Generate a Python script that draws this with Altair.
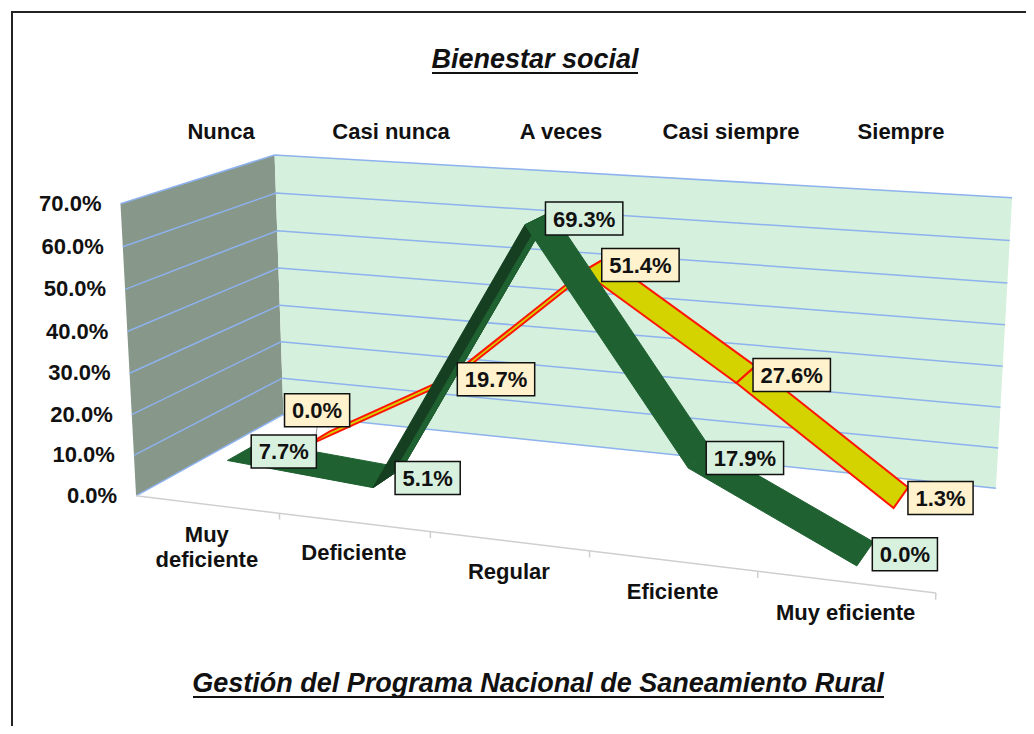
import numpy as np
import pandas as pd
import altair as alt

# ---------------- data ----------------
categories = ["Muy deficiente", "Deficiente", "Regular", "Eficiente", "Muy eficiente"]
serie_verde = [7.7, 5.1, 69.3, 17.9, 0.0]        # front ribbon (green)
serie_amarilla = [0.0, 19.7, 51.4, 27.6, 1.3]    # back ribbon (yellow)
depth_labels = ["Nunca", "Casi nunca", "A veces", "Casi siempre", "Siempre"]
y_ticks = [0, 10, 20, 30, 40, 50, 60, 70]
chart_title = "Bienestar social"
x_title = "Gestión del Programa Nacional de Saneamiento Rural"

# ---------------- layout / style ----------------
W, H = 1018, 718          # drawing area = page minus the 8px margin
M = 8
FONT = "Liberation Sans"
FS = 22                   # label font size
TFS = 27                  # title font size
GREEN = "#1f6131"
GREEN_DARK = "#153f20"
YELLOW = "#d4d300"
RED = "#ff1500"
WALL_SIDE = "#879789"
WALL_BACK = "#d5f0dc"
GRID = "#8db2ee"
BOX_GREEN = "#d8f1df"
BOX_YELLOW = "#fff2cc"
label_nudges = {("amarilla", 0): (-38, -30)}   # the one label moved by hand in the original

# ---- perspective camera fitted to the wall / floor corners of the reference (page px)
ref_pts = []
vs = [0.7, 0.6, 0.5, 0.4, 0.3, 0.2, 0.1, 0.0]
fl_y = [203, 247, 290, 332, 373, 415, 455, 493]
bl_y = [155, 193, 230, 268, 305, 342, 378, 417]
br_y = [199, 241, 283, 324, 366, 407, 447, 487]
for v, a, b, c in zip(vs, fl_y, bl_y, br_y):
    f = (0.7 - v) / 0.7
    ref_pts.append(((0, 0, v), (120 + 17 * f, a)))
    ref_pts.append(((0, 1, v), (275 + 8 * f, b)))
    ref_pts.append(((1, 1, v), (1012 - 16 * f, c)))
for u, x, y in [(0.2, 279, 513), (0.4, 430, 532), (0.6, 590, 552), (0.8, 757, 573), (1.0, 936, 593)]:
    ref_pts.append(((u, 0, 0), (x, y)))

rows = []
for (u, w, v), (x, y) in ref_pts:
    xn = (x - M - 500) / 500.0
    yn = (y - M - 360) / 360.0
    Xh = [u, w, v, 1.0]
    rows.append(Xh + [0, 0, 0, 0] + [-xn * c for c in Xh])
    rows.append([0, 0, 0, 0] + Xh + [-yn * c for c in Xh])
_, _, Vt = np.linalg.svd(np.array(rows, dtype=float))
Pn = Vt[-1].reshape(3, 4)
T = np.array([[500.0, 0, 500.0], [0, 360.0, 360.0], [0, 0, 1.0]])
P = T @ Pn
P = P / P[2, 3]


def lin(r, u, w, v):
    a = P[r]
    return f"({a[0]:.10g}*datum.{u}+({a[1]:.10g})*datum.{w}+({a[2]:.10g})*datum.{v}+({a[3]:.10g}))"


def projected(base, u="u", w="w", v="v", px="px", py="py"):
    den = lin(2, u, w, v)
    return base.transform_calculate(**{px: f"{lin(0, u, w, v)}/{den}", py: f"{lin(1, u, w, v)}/{den}"})


xs = alt.Scale(domain=[0, W], range=[0, W], nice=False, zero=False)
ys = alt.Scale(domain=[0, H], range=[0, H], nice=False, zero=False)


def PX(f="px"):
    return alt.X(f"{f}:Q", scale=xs, axis=None)


def PY(f="py"):
    return alt.Y(f"{f}:Q", scale=ys, axis=None)


n = len(categories)
vmax = max(y_ticks) / 100.0

# ---------------- walls ----------------
wall_rows = []
for part, fc, pts in [
    ("lateral", WALL_SIDE, [(0, 0, 0), (0, 1, 0), (0, 1, vmax), (0, 0, vmax)]),
    ("fondo", WALL_BACK, [(0, 1, 0), (1, 1, 0), (1, 1, vmax), (0, 1, vmax)]),
]:
    for k, (u, w, v) in enumerate(pts):
        wall_rows.append(dict(part=part, k=k, u=u, w=w, v=v, fc=fc))
walls = projected(alt.Chart(pd.DataFrame(wall_rows))).mark_line(
    filled=True, interpolate="linear-closed", strokeWidth=0
).encode(x=PX(), y=PY(), detail="part:N", order="k:Q", fill=alt.Fill("fc:N", scale=None))

# ---------------- gridlines ----------------
grid_rows = []
for t in y_ticks:
    for k, (u, w) in enumerate([(0, 0), (0, 1), (1, 1)]):
        grid_rows.append(dict(t=t, k=k, u=u, w=w, v=t / 100.0))
grid = projected(alt.Chart(pd.DataFrame(grid_rows))).mark_line(
    stroke=GRID, strokeWidth=1.5
).encode(x=PX(), y=PY(), detail="t:N", order="k:Q")

# ---------------- category axis line + ticks ----------------
axis_rows = [dict(g="eje", k=0, u=0.0, w=0.0, v=0.0), dict(g="eje", k=1, u=1.0, w=0.0, v=0.0)]
for j in range(1, n + 1):
    u = j / n
    axis_rows += [dict(g=f"t{j}", k=0, u=u, w=0.0, v=0.0), dict(g=f"t{j}", k=1, u=u, w=0.0, v=-0.015)]
axis_l = projected(alt.Chart(pd.DataFrame(axis_rows))).mark_line(
    stroke="#cfcfcf", strokeWidth=1.5
).encode(x=PX(), y=PY(), detail="g:N", order="k:Q")


# ---------------- ribbons ----------------
def ribbon_df(name, values, wc, half, up_color, down_color, rim=0.0):
    rr = []
    for i in range(len(values) - 1):
        u0, u1 = (i + 0.5) / n, (i + 1.5) / n
        v0, v1 = values[i] / 100.0, values[i + 1] / 100.0
        rising = v1 > v0 + 0.05
        strips = [(wc - half, wc + half, down_color)]
        if rising:
            strips = [(wc - half, wc + half, up_color)]
            if rim > 0:
                strips.append((wc + half - rim, wc + half, down_color))
        for s, (wa, wb, fc) in enumerate(strips):
            corners = [(u0, wa, v0), (u1, wa, v1), (u1, wb, v1), (u0, wb, v0)]
            for k, (u, w, v) in enumerate(corners):
                rr.append(dict(serie=name, seg=f"{i}-{s}", k=k, u=u, w=w, v=v, fc=fc))
    return pd.DataFrame(rr)


yellow = projected(alt.Chart(ribbon_df("amarilla", serie_amarilla, 0.75, 0.11, YELLOW, YELLOW))).mark_line(
    filled=True, interpolate="linear-closed", stroke=RED, strokeWidth=2, strokeJoin="miter"
).encode(x=PX(), y=PY(), detail="seg:N", order="k:Q", fill=alt.Fill("fc:N", scale=None))

green = projected(alt.Chart(ribbon_df("verde", serie_verde, 0.25, 0.11, GREEN_DARK, GREEN, rim=0.07))).mark_line(
    filled=True, interpolate="linear-closed", strokeWidth=1, strokeJoin="miter"
).encode(x=PX(), y=PY(), detail="seg:N", order="k:Q",
         fill=alt.Fill("fc:N", scale=None), stroke=alt.Stroke("fc:N", scale=None))

# ---------------- data labels ----------------
lab_rows = []
for sname, vals, wc, bg in [("amarilla", serie_amarilla, 0.75, BOX_YELLOW), ("verde", serie_verde, 0.25, BOX_GREEN)]:
    for i, val in enumerate(vals):
        ndx, ndy = label_nudges.get((sname, i), (0, 0))
        lab_rows.append(dict(serie=sname, cat=categories[i], u=(i + 0.5) / n, w=wc, v=val / 100.0,
                             bg=bg, ndx=ndx, ndy=ndy))
lab_base = projected(alt.Chart(pd.DataFrame(lab_rows))).transform_calculate(
    bw=f"{FS}*(0.556*(length(format(datum.v, '.1%'))-2)+1.167)+15",
    bx="datum.px + 7 + datum.ndx",
    bx2="datum.bx + datum.bw",
    by="datum.py - 16 + datum.ndy",
    by2="datum.by + 33",
    cx="(datum.bx + datum.bx2) / 2",
    cy="(datum.by + datum.by2) / 2 + 1",
)
leader = lab_base.transform_filter("datum.ndy != 0").mark_rule(color="#9a9a9a", strokeWidth=1).encode(
    x=PX("px"), y=PY("py"), x2="cx:Q", y2="by2:Q")
boxes = lab_base.mark_rect(stroke="#111111", strokeWidth=1.5).encode(
    x=PX("bx"), x2="bx2:Q", y=PY("by"), y2="by2:Q", fill=alt.Fill("bg:N", scale=None))
texts = lab_base.mark_text(font=FONT, fontSize=FS, fontWeight="bold", color="#111111",
                           align="center", baseline="middle").encode(
    x=PX("cx"), y=PY("cy"), text=alt.Text("v:Q", format=".1%"))

# ---------------- value axis labels ----------------
ytl = projected(alt.Chart(pd.DataFrame(dict(v=[t / 100.0 for t in y_ticks], u=0.0, w=0.0)))).mark_text(
    align="right", baseline="middle", dx=-19, font=FONT, fontSize=FS, fontWeight="bold", color="#111111"
).encode(x=PX(), y=PY(), text=alt.Text("v:Q", format=".1%"))

# ---------------- category labels ----------------
catl = projected(alt.Chart(pd.DataFrame(dict(cat=categories, u=[(i + 0.5) / n for i in range(n)], w=0.0, v=0.0)))
                 ).transform_calculate(lab="replace(datum.cat, 'Muy d', 'Muy\\nd')").mark_text(
    align="center", baseline="top", dy=21, lineBreak="\n", lineHeight=25,
    font=FONT, fontSize=FS, fontWeight="bold", color="#111111"
).encode(x=PX(), y=PY(), text="lab:N")

# ---------------- depth (series) labels ----------------
depth = alt.Chart(pd.DataFrame(dict(lab=depth_labels))).mark_text(
    font=FONT, fontSize=FS, fontWeight="bold", color="#111111", baseline="middle"
).encode(
    x=alt.X("lab:N", sort=None, axis=None,
            scale=alt.Scale(type="point", domain=depth_labels, range=[213, 893], padding=0)),
    y=alt.value(124), text="lab:N")

# ---------------- titles ----------------
tdf = pd.DataFrame(dict(txt=[chart_title], sub=[x_title]))
frame = alt.Chart(tdf).mark_rect(fill="white", fillOpacity=0, stroke="#222222", strokeWidth=2).encode(
    x=alt.value(4), x2=alt.value(1060), y=alt.value(4), y2=alt.value(760))
title1 = alt.Chart(tdf).mark_text(font=FONT, fontSize=TFS, fontWeight="bold", fontStyle="italic",
                                  baseline="alphabetic", color="#111111").encode(
    x=alt.value(527), y=alt.value(60), text="txt:N")
ul1 = alt.Chart(tdf).mark_rule(color="#111111", strokeWidth=2).encode(
    x=alt.value(424), x2=alt.value(630), y=alt.value(65))
title2 = alt.Chart(tdf).mark_text(font=FONT, fontSize=TFS, fontWeight="bold", fontStyle="italic",
                                  baseline="alphabetic", color="#111111").encode(
    x=alt.value(530), y=alt.value(684), text="sub:N")
ul2 = alt.Chart(tdf).mark_rule(color="#111111", strokeWidth=2).encode(
    x=alt.value(185), x2=alt.value(876), y=alt.value(689))

chart = alt.layer(
    frame, walls, grid, axis_l, yellow, green, leader, boxes, texts, ytl, catl, depth,
    title1, ul1, title2, ul2
).resolve_scale(x="independent", y="independent").properties(
    width=W, height=H, padding=0, autosize=alt.AutoSizeParams(type="none"), background="white"
).configure_view(strokeWidth=0)

chart.save("out.html", embed_options={"renderer": "svg", "actions": False})
